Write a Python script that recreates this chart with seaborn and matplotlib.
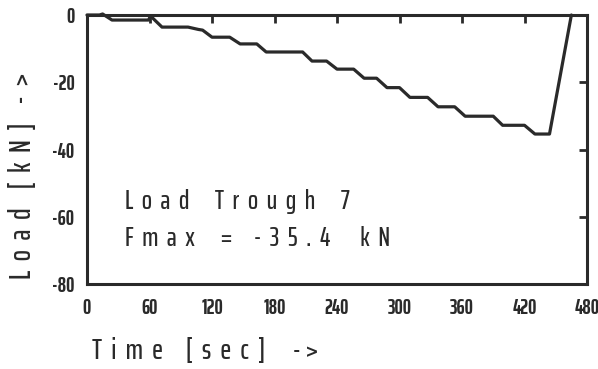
import matplotlib
matplotlib.use("Agg")
import matplotlib.pyplot as plt
import seaborn as sns
import pandas as pd

time_s = [0, 12, 15, 24, 59, 61, 72, 97, 107, 111, 120, 137, 147, 163, 172, 207, 216,
          230, 240, 256, 266, 278, 288, 300, 310, 327, 337, 353, 363, 390, 399, 420,
          430, 444, 465]
load_kn = [0, 0, 0.3, -1.5, -1.5, -0.3, -3.6, -3.6, -4.3, -4.5, -6.6, -6.6, -8.6, -8.6,
           -11.0, -11.0, -13.7, -13.7, -16.1, -16.1, -18.8, -18.8, -21.6, -21.6, -24.5,
           -24.5, -27.3, -27.3, -30.1, -30.1, -32.8, -32.8, -35.4, -35.4, 0]
x_ticks = [0, 60, 120, 180, 240, 300, 360, 420, 480]
y_ticks = [0, -20, -40, -60, -80]
annot_lines = ["L  o  a  d      T  r  o  u  g  h      7",
               "F  m  a  x      =     -  3  5  .  4       k  N"]
x_label = "T  i  m  e     [  s  e  c  ]      - >"
y_label = "L  o  a  d    [  k  N  ]    -  >"

sns.set_theme(style="white")
fam = ['Saira ExtraCondensed', 'Barlow Condensed', 'Roboto Condensed', 'DejaVu Sans']
plt.rcParams['font.family'] = fam
ink = "#2a2a2a"

df = pd.DataFrame({"t": time_s, "load": load_kn})
fig = plt.figure(figsize=(5.98, 3.69), dpi=100)
ax = fig.add_axes([87/598, 1-284/369, 500/598, 269/369])
sns.lineplot(data=df, x="t", y="load", sort=False, color=ink, linewidth=2.3,
             ax=ax, clip_on=False)
ax.set_xlim(0, 480)
ax.set_ylim(-80, 0)
ax.set_xticks(x_ticks)
ax.set_yticks(y_ticks)
ax.set_xticklabels([str(v) for v in x_ticks], fontsize=15, fontweight="bold", color=ink)
ax.set_yticklabels([str(v) for v in y_ticks], fontsize=15, fontweight="bold", color=ink)
ax.tick_params(direction="in", length=6, width=2, color=ink, top=True, right=True,
               labeltop=False, labelright=False)
ax.tick_params(axis="y", pad=9)
ax.tick_params(axis="x", pad=10)
for s in ax.spines.values():
    s.set_visible(True)
    s.set_linewidth(2.2)
    s.set_color(ink)
ax.set_xlabel("")
ax.set_ylabel("")
ax.grid(False)

fig.text(125/598, 1-201/369, annot_lines[0], fontsize=19.5, fontweight="medium",
         color=ink, va="center", ha="left")
fig.text(125/598, 1-239/369, annot_lines[1], fontsize=19.5, fontweight="medium",
         color=ink, va="center", ha="left")
fig.text(92/598, 1-351/369, x_label, fontsize=21, fontweight="medium", color=ink,
         va="center", ha="left")
fig.text(23/598, 1-279/369, y_label, fontsize=21.5, fontweight="medium", color=ink,
         va="bottom", ha="center", rotation=90)
fig.savefig("out.png", dpi=100)
